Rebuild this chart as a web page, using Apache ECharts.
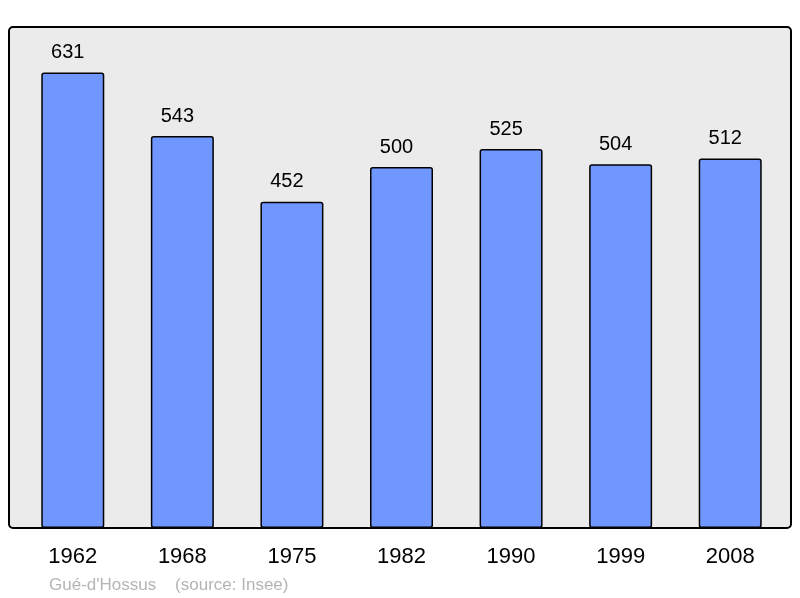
<!DOCTYPE html>
<html>
<head>
    <meta charset="UTF-8">
    <title>Gué-d'Hossus</title>
    <script src="https://cdn.jsdelivr.net/npm/echarts@6/dist/echarts.min.js"></script>
    <style>
        body { margin: 0; background: #fff; }
        #container { width: 800px; height: 598px; }
    </style>
</head>
<body>
<div id="container"></div>
<script>
    var years = ['1962', '1968', '1975', '1982', '1990', '1999', '2008'];
    var population = [631, 543, 452, 500, 525, 504, 512];
    var caption = "Gué-d'Hossus    (source: Insee)";

    var myChart = echarts.init(document.getElementById('container'));
    myChart.setOption({
        animation: false,
        textStyle: { fontFamily: 'Liberation Sans, Arial, sans-serif' },
        graphic: [{
            type: 'rect',
            z: -10,
            shape: { x: 9, y: 27, width: 782, height: 501, r: 4 },
            style: { fill: '#ebebeb', stroke: '#000', lineWidth: 2 }
        }, {
            type: 'text',
            left: 49,
            top: 577,
            style: { text: caption, fill: '#b4b4b4', font: '17px Liberation Sans, Arial, sans-serif' }
        }],
        grid: { left: 18, right: 15, top: 27, bottom: 70 },
        xAxis: {
            type: 'category',
            data: years,
            axisLine: { show: false },
            axisTick: { show: false },
            axisLabel: { color: '#000', fontSize: 22, margin: 18 }
        },
        yAxis: {
            type: 'value',
            min: 0,
            max: 694,
            show: false,
            splitLine: { show: false }
        },
        series: [{
            type: 'bar',
            data: population,
            barWidth: 63,
            itemStyle: { color: '#7097ff', borderColor: '#000', borderWidth: 1.5, borderRadius: 2 },
            label: { show: true, position: 'top', distance: 10, offset: [-5, 0], color: '#000', fontSize: 20 }
        }]
    });
</script>
</body>
</html>
